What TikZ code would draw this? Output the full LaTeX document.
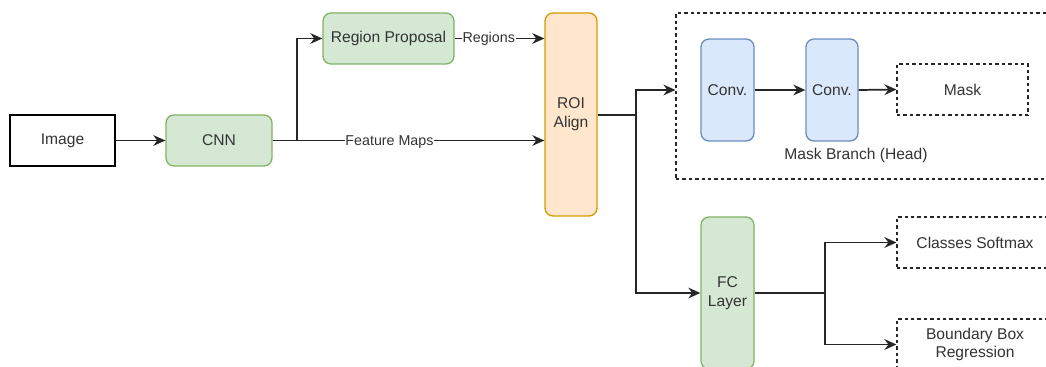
\documentclass[tikz,border=0pt]{standalone}
\usepackage{fontspec}
\setmainfont{Liberation Sans}
\usetikzlibrary{arrows.meta}
\definecolor{gfill}{HTML}{D5E8D4}
\definecolor{gline}{HTML}{82B366}
\definecolor{ofill}{HTML}{FFE6CC}
\definecolor{oline}{HTML}{D79B00}
\definecolor{bfill}{HTML}{DAE8FC}
\definecolor{bline}{HTML}{6C8EBF}
\definecolor{txt}{HTML}{333333}
\begin{document}
\begin{tikzpicture}[x=0.75pt,y=-0.75pt,
  every node/.style={font=\fontsize{11.7pt}{14pt}\selectfont, text=txt, inner sep=0pt, align=center},
  box/.style={draw=black, line width=1pt},
  gbox/.style={draw=gline, fill=gfill, line width=1pt, rounded corners=6pt},
  obox/.style={draw=oline, fill=ofill, line width=1pt, rounded corners=6pt},
  bbox/.style={draw=bline, fill=bfill, line width=1pt, rounded corners=6pt},
  dbox/.style={draw=black!85, line width=0.8pt, dash pattern=on 2.6pt off 2.2pt},
  conn/.style={draw=black!85, line width=1.3pt},
  arr/.style={conn, -{Stealth[length=9pt,width=8pt]}},
  elabel/.style={font=\fontsize{10.7pt}{12pt}\selectfont, fill=white, inner sep=0.5pt}]
\useasboundingbox (0,0) rectangle (1046,367);
\clip (0,0) rectangle (1046,367);
\fill[white] (0,0) rectangle (1046,367);
% nodes
\node[box, minimum width=105*0.75pt, minimum height=51*0.75pt] (img) at (62.5,140.5) {Image};
\node[gbox, minimum width=106*0.75pt, minimum height=51*0.75pt] (cnn) at (219,140.5) {CNN};
\node[gbox, minimum width=131*0.75pt, minimum height=51*0.75pt] (rp) at (388.5,38.5) {Region Proposal};
\node[obox, minimum width=52*0.75pt, minimum height=203*0.75pt] (roi) at (571,114.5) {ROI\\Align};
\node[dbox, minimum width=390*0.75pt, minimum height=166*0.75pt] (mb) at (871,96) {};
\node[bbox, minimum width=53*0.75pt, minimum height=102*0.75pt] (c1) at (727.5,90) {Conv.};
\node[bbox, minimum width=52*0.75pt, minimum height=102*0.75pt] (c2) at (832,90) {Conv.};
\node[dbox, minimum width=131*0.75pt, minimum height=51*0.75pt] (mask) at (962.5,89.5) {Mask};
\node (mbl) at (856,155) {Mask Branch (Head)};
\node[gbox, minimum width=53*0.75pt, minimum height=152*0.75pt] (fc) at (727.5,293) {FC\\Layer};
\node[dbox, minimum width=156*0.75pt, minimum height=51*0.75pt] (cls) at (975,242.5) {Classes Softmax};
\node[dbox, minimum width=156*0.75pt, minimum height=51*0.75pt] (bbr) at (975,344.5) {Boundary Box\\Regression};
% connectors
\coordinate (s1) at (297,140.5);
\coordinate (s2) at (636,115);
\coordinate (s3) at (825,293);
\draw[arr] (img.east) -- (cnn.west);
\draw[arr] (cnn.east) -- (s1) |- (rp.west);
\draw[arr] (cnn.east) -- node[elabel, pos=0.43, yshift=-1.5pt] {Feature Maps} (roi.west |- cnn.east);
\draw[arr] (rp.east) -- node[elabel, pos=0.38] {Regions} (roi.west |- rp.east);
\draw[conn] (roi.east |- s2) -- (s2);
\draw[arr] (s2) |- (mb.west |- c1.center);
\draw[arr] (s2) |- (fc.west);
\draw[arr] (c1.east) -- (c2.west);
\draw[arr] (c2.east) -- (mask.west);
\draw[conn] (fc.east) -- (s3);
\draw[arr] (s3) |- (cls.west);
\draw[arr] (s3) |- (bbr.west);
\end{tikzpicture}
\end{document}
